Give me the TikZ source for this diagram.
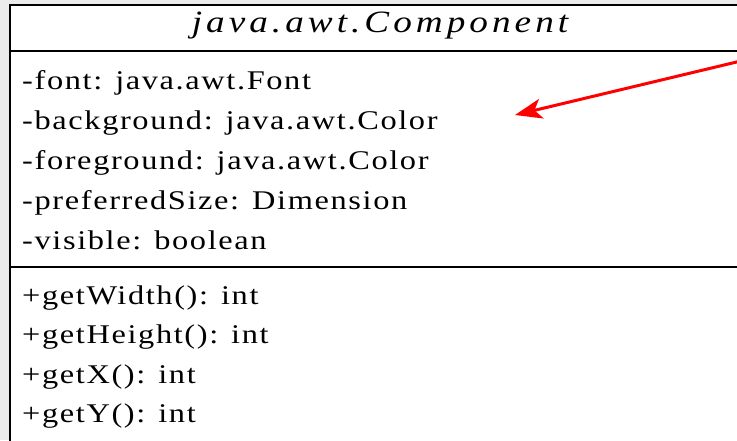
\documentclass[tikz,border=0pt]{standalone}
\usepackage{fontspec}
\setmainfont{Liberation Serif}
\newfontfamily\memberfont[FakeStretch=1.2, LetterSpace=6]{Liberation Serif}
\newfontfamily\titlefont[FakeStretch=1.2, LetterSpace=13]{Liberation Serif}
\usetikzlibrary{arrows.meta}

\definecolor{pagegrey}{HTML}{EBEBEB}
\definecolor{arrowred}{HTML}{FF0000}

\tikzset{
  member/.style={anchor=base west, inner sep=0pt, font=\memberfont\fontsize{27}{27}\selectfont},
  classname/.style={anchor=base, inner sep=0pt, font=\titlefont\fontsize{31}{31}\selectfont\itshape},
  rule/.style={line width=2.5pt},
  pointer/.style={arrowred, line width=3pt, -{Stealth[length=27pt, width=20pt, inset=7pt]}}
}

\begin{document}
\begin{tikzpicture}[x=1pt, y=-1pt]
\useasboundingbox (0,0) rectangle (737,440);
\fill[pagegrey] (0,0) rectangle (737,440);
% class box, cut off on the right and at the bottom
\filldraw[fill=white, rule] (10,5) rectangle (760,460);
\draw[rule] (10,51) -- (760,51);
\draw[rule] (10,267) -- (760,267);

\node[classname] (title) at (380,32) {java.awt.Component};

\node[member] (font) at (22,89) {-font: java.awt.Font};
\node[member] (bg) at (22,129) {-background: java.awt.Color};
\node[member] (fg) at (22,169) {-foreground: java.awt.Color};
\node[member] (size) at (22,209) {-preferredSize: Dimension};
\node[member] (vis) at (22,249) {-visible: boolean};

\node[member] (width) at (22,304) {+getWidth(): int};
\node[member] (height) at (22,343) {+getHeight(): int};
\node[member] (getx) at (22,383) {+getX(): int};
\node[member] (gety) at (22,422) {+getY(): int};

\coordinate (from) at (745,60);
\coordinate (to) at (515,115);
\draw[pointer] (from) -- (to);
\end{tikzpicture}
\end{document}
